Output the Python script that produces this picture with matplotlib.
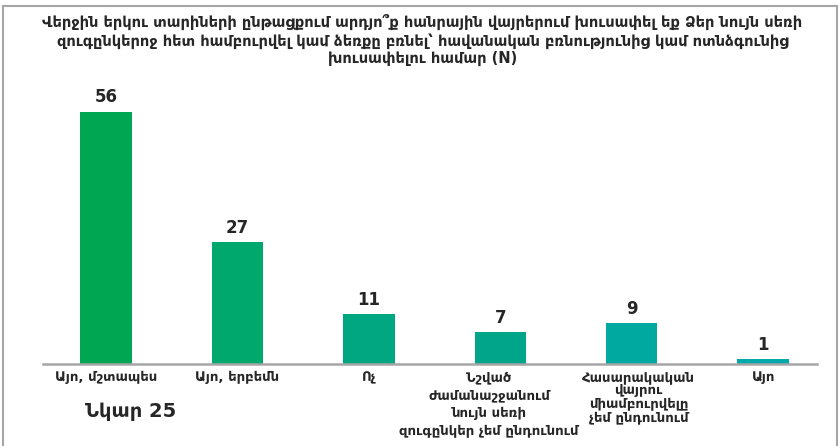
import matplotlib
matplotlib.use('Agg')
import matplotlib.pyplot as plt

plt.rcParams['font.family'] = ['DejaVu Sans Condensed', 'DejaVu Sans']

title = ('Վերջին երկու տարիների ընթացքում արդյո՞ք հանրային վայրերում խուսափել եք Ձեր նույն սեռի\n'
         'զուգընկերոջ հետ համբուրվել կամ ձեռքը բռնել՝ հավանական բռնությունից կամ ոտնձգունից\n'
         'խուսափելու համար (N)')

categories = ['Այո, մշտապես',
              'Այո, երբեմն',
              'Ոչ',
              'Նշված\nժամանաշջանում\nնույն սեռի\nզուգընկեր չեմ ընդունում',
              'Հասարակական\nվայրու\nմիամբուրվելը\nչեմ ընդունում',
              'Այո']
values = [56, 27, 11, 7, 9, 1]
colors = ['#00a651', '#00a86d', '#00a780', '#00a58a', '#00a99f', '#00aaab']

fig = plt.figure(figsize=(8.4, 4.46), dpi=100)

# outer frame (no bottom edge)
fig.add_artist(plt.Line2D([0.004, 0.004], [0, 0.987], color='#a6a6a6', lw=1.5))
fig.add_artist(plt.Line2D([0.004, 0.996], [0.987, 0.987], color='#a6a6a6', lw=1.5))
fig.add_artist(plt.Line2D([0.996, 0.996], [0, 0.987], color='#a6a6a6', lw=1.5))

ax = fig.add_axes([0.0512, 0.1839, 0.9214, 0.6054])
x = list(range(len(values)))
bars = ax.bar(x, values, width=0.39, color=colors, zorder=2)
ax.set_xlim(-0.48, 5.41)
ax.set_ylim(0, 60)

for b, v in zip(bars, values):
    ax.annotate(str(v), (b.get_x() + b.get_width() / 2, v), xytext=(0, 4),
                textcoords='offset points', ha='center', va='bottom',
                fontsize=12, fontweight='bold', color='#262626',
                family='DejaVu Sans')

for s in ['top', 'right', 'left']:
    ax.spines[s].set_visible(False)
ax.spines['bottom'].set_color('#a6a6a6')
ax.spines['bottom'].set_linewidth(1.8)
ax.set_yticks([])
ax.set_xticks([])

# category labels; the 4th and 5th are nudged apart like in the original
shift = [0, 0, 0, -8, 5, 0]
spacing = [1.1, 1.1, 1.1, 1.5, 1.05, 1.1]
for i, cat in enumerate(categories):
    ax.annotate(cat, (i, 0), xycoords=('data', 'axes fraction'),
                xytext=(shift[i], -5), textcoords='offset points',
                ha='center', va='top', fontsize=9.5, fontweight='bold',
                color='#262626', linespacing=spacing[i])

fig.text(0.503, 0.968, title, ha='center', va='top', fontsize=10.5,
         fontweight='bold', color='#262626', linespacing=1.2)
fig.text(0.101, 0.078, 'Նկար 25', ha='left', va='center', fontsize=14,
         fontweight='bold', color='#262626', family='DejaVu Sans')

fig.savefig('out.png', dpi=100)
